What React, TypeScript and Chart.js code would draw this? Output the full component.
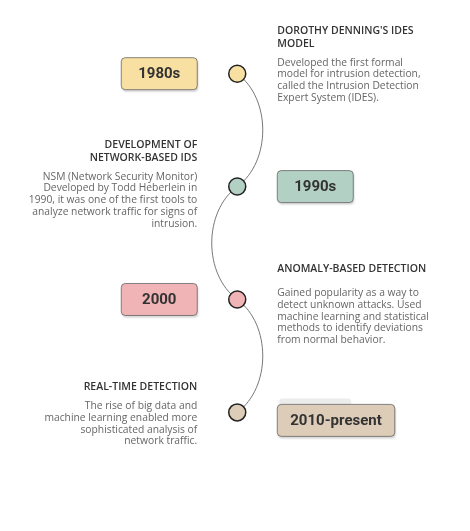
import { useEffect, useRef } from 'react';
import { Chart, registerables } from 'chart.js';

Chart.register(...registerables);

const eras = ['1980s', '1990s', '2000', '2010-present'];
const steps = [0, 1, 2, 3];
const colors = ['#f8e0a3', '#b2d1c4', '#f0b4b6', '#ddccb7'];
const sides = ['right', 'left', 'right', 'left'];
const titles = [
  ["DOROTHY DENNING'S IDES", 'MODEL'],
  ['DEVELOPMENT OF', 'NETWORK-BASED IDS'],
  ['ANOMALY-BASED DETECTION'],
  ['REAL-TIME DETECTION'],
];
const descriptions = [
  ['Developed the first formal', 'model for intrusion detection,', 'called the Intrusion Detection', 'Expert System (IDES).'],
  ['NSM (Network Security Monitor)', 'Developed by Todd Heberlein in', '1990, it was one of the first tools to', 'analyze network traffic for signs of', 'intrusion.'],
  ['Gained popularity as a way to', 'detect unknown attacks. Used', 'machine learning and statistical', 'methods to identify deviations', 'from normal behavior.'],
  ['The rise of big data and', 'machine learning enabled more', 'sophisticated analysis of', 'network traffic.'],
];

const FONT = 'Roboto, "Noto Sans", sans-serif';
const TEXT_FONT = '"Open Sans", "Noto Sans", sans-serif';

function roundRect(ctx: CanvasRenderingContext2D, x: number, y: number, w: number, h: number, r: number) {
  ctx.beginPath();
  ctx.moveTo(x + r, y);
  ctx.arcTo(x + w, y, x + w, y + h, r);
  ctx.arcTo(x + w, y + h, x, y + h, r);
  ctx.arcTo(x, y + h, x, y, r);
  ctx.arcTo(x, y, x + w, y, r);
  ctx.closePath();
}

const timelinePlugin = {
  id: 'timeline',
  beforeDatasetsDraw(chart: any) {
    const ctx = chart.ctx as CanvasRenderingContext2D;
    const pts = chart.getDatasetMeta(0).data;
    ctx.save();
    ctx.strokeStyle = '#555';
    ctx.lineWidth = 0.8;
    for (let i = 0; i < pts.length - 1; i++) {
      const a = pts[i], b = pts[i + 1];
      const dx = i % 2 === 0 ? 34 : -34;
      ctx.beginPath();
      ctx.moveTo(a.x, a.y);
      ctx.bezierCurveTo(a.x + dx, a.y + 25, b.x + dx, b.y - 25, b.x, b.y);
      ctx.stroke();
    }
    ctx.restore();
  },
  afterDatasetsDraw(chart: any) {
    const ctx = chart.ctx as CanvasRenderingContext2D;
    const pts = chart.getDatasetMeta(0).data;
    ctx.save();
    pts.forEach((p: any, i: number) => {
      const right = sides[i] === 'right';
      // era box on the opposite side
      ctx.font = `bold 15px ${FONT}`;
      const tw = ctx.measureText(eras[i]).width;
      const w = Math.max(76, tw + 26);
      const h = 32;
      const bx = right ? p.x - 40 - w : p.x + 40;
      const by = p.y - h / 2 + (i === 3 ? 8 : 0);
      if (i === 3) {
        ctx.fillStyle = '#ececec';
        roundRect(ctx, bx + 2, by - 6, 72, 12, 3);
        ctx.fill();
      }
      ctx.shadowColor = 'rgba(0,0,0,0.18)';
      ctx.shadowOffsetX = 1;
      ctx.shadowOffsetY = 2;
      ctx.shadowBlur = 2;
      ctx.fillStyle = colors[i];
      roundRect(ctx, bx, by, w, h, 4);
      ctx.fill();
      ctx.shadowColor = 'transparent';
      ctx.strokeStyle = '#666';
      ctx.lineWidth = 0.8;
      ctx.stroke();
      ctx.fillStyle = '#333';
      ctx.textAlign = 'center';
      ctx.textBaseline = 'middle';
      ctx.fillText(eras[i], bx + w / 2, by + h / 2 + 1);

      // title + description
      const tx = right ? p.x + 40 : p.x - 40;
      ctx.textAlign = right ? 'left' : 'right';
      ctx.textBaseline = 'alphabetic';
      const titleTop = [34, 148, 272, 390][i];
      ctx.font = `600 10.5px ${TEXT_FONT}`;
      ctx.fillStyle = '#333';
      titles[i].forEach((t, k) => ctx.fillText(t, tx, titleTop + k * 12.5));
      const dy = titleTop + (titles[i].length - 1) * 12.5 + (i === 2 ? 24 : 19);
      ctx.font = `10.3px ${TEXT_FONT}`;
      ctx.fillStyle = '#666';
      descriptions[i].forEach((t, k) => ctx.fillText(t, tx, dy + k * 11.8));
    });
    ctx.restore();
  },
};

export default function App() {
  const ref = useRef<HTMLCanvasElement | null>(null);
  useEffect(() => {
    if (!ref.current) return;
    const chart = new Chart(ref.current, {
      type: 'scatter',
      data: {
        datasets: [
          {
            data: steps.map((s) => ({ x: 0, y: s })),
            pointRadius: 8.5,
            pointHoverRadius: 8.5,
            pointBackgroundColor: colors,
            pointBorderColor: '#222',
            pointBorderWidth: 1.5,
          },
        ],
      },
      options: {
        animation: false,
        responsive: true,
        maintainAspectRatio: false,
        layout: { padding: 0 },
        plugins: { legend: { display: false }, tooltip: { enabled: false } },
        scales: {
          x: { display: false, min: -1.01, max: 0.99 },
          y: { display: false, reverse: true, min: -0.564, max: 3.962 },
        },
      },
      plugins: [timelinePlugin],
    });
    return () => chart.destroy();
  }, []);
  return (
    <div style={{ position: 'fixed', left: 0, top: 0, width: 470, height: 531, background: '#fff' }}>
      <canvas ref={ref} />
    </div>
  );
}
